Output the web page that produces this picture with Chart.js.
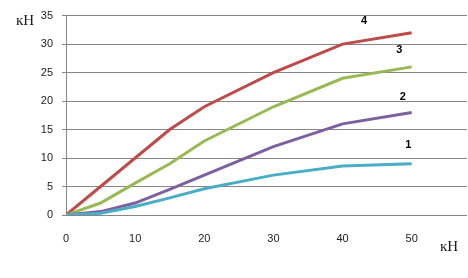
<!DOCTYPE html>
<html>
<head>
<meta charset="utf-8">
<script src="https://cdn.jsdelivr.net/npm/chart.js@4/dist/chart.umd.min.js"></script>
<style>
    html, body { margin: 0; padding: 0; background: #fff; }
    #wrap { width: 468px; height: 278px; position: relative; }
</style>
</head>
<body>
<div id="wrap"><canvas id="chart" width="468" height="278"></canvas></div>
<script>
// ===== data =====
var X_VALUES = [0, 5, 10, 15, 20, 30, 40, 50];

var SERIES_1 = [0, 0.3, 1.5, 3, 4.6, 7, 8.6, 9];
var SERIES_2 = [0, 0.6, 2.1, 4.5, 7, 12, 16, 18];
var SERIES_3 = [0, 2.1, 5.6, 9, 13, 19, 24, 26];
var SERIES_4 = [0, 5, 10, 15, 19, 25, 30, 32];

var SERIES_NAMES  = ["1", "2", "3", "4"];
var SERIES_COLORS = ["#4BACC6", "#7D60A0", "#98B954", "#BE4B48"];

// where the curve numbers sit (in data units)
var LABEL_X = [49.5, 48.7, 48.2, 43.1];
var LABEL_Y = [12.3, 20.8, 29.0, 34.1];

var Y_TICKS = [0, 5, 10, 15, 20, 25, 30, 35];
var X_TICKS = [0, 10, 20, 30, 40, 50];
var UNIT = "кН";

function toPoints(ys) {
    return ys.map(function (y, i) { return { x: X_VALUES[i], y: y }; });
}

var allSeries = [SERIES_1, SERIES_2, SERIES_3, SERIES_4];
var datasets = allSeries.map(function (s, i) {
    return {
        label: SERIES_NAMES[i],
        data: toPoints(s),
        borderColor: SERIES_COLORS[i],
        borderWidth: 3,
        pointRadius: 0,
        tension: 0,
        fill: false
    };
});

// curve numbers + the two "кН" titles
var textPlugin = {
    id: "texts",
    afterDatasetsDraw: function (chart) {
        var ctx = chart.ctx;
        var xs = chart.scales.x, ys = chart.scales.y;
        var area = chart.chartArea;
        ctx.save();
        ctx.fillStyle = "#000";
        ctx.font = "bold 11px 'Liberation Sans', Arial, sans-serif";
        ctx.textAlign = "center";
        ctx.textBaseline = "middle";
        SERIES_NAMES.forEach(function (n, i) {
            ctx.fillText(n, xs.getPixelForValue(LABEL_X[i]), ys.getPixelForValue(LABEL_Y[i]));
        });

        ctx.font = "15px 'Liberation Serif', 'Times New Roman', serif";
        ctx.fillStyle = "#1a1a1a";
        ctx.textAlign = "left";
        ctx.fillText(UNIT, area.left - 50, area.top + 5);
        ctx.fillText(UNIT, area.right - 27, area.bottom + 32);
        ctx.restore();
    }
};

new Chart(document.getElementById("chart").getContext("2d"), {
    type: "line",
    data: { datasets: datasets },
    plugins: [textPlugin],
    options: {
        responsive: false,
        animation: false,
        layout: { padding: { top: 14, right: 1, bottom: 0, left: 0 } },
        plugins: {
            legend: { display: false },
            tooltip: { enabled: false }
        },
        scales: {
            x: {
                type: "linear",
                min: 0,
                max: 58,
                afterBuildTicks: function (scale) {
                    scale.ticks = X_TICKS.map(function (v) { return { value: v }; });
                },
                afterFit: function (scale) { scale.height = 63; },
                grid: { display: false, drawTicks: false },
                border: { display: false },
                ticks: {
                    color: "#222",
                    padding: 17,
                    maxRotation: 0,
                    font: { family: "'Liberation Sans', Arial, sans-serif", size: 11 }
                }
            },
            y: {
                min: 0,
                max: 35,
                afterBuildTicks: function (scale) {
                    scale.ticks = Y_TICKS.map(function (v) { return { value: v }; });
                },
                afterFit: function (scale) { scale.width = 66; },
                grid: { color: "#868686", lineWidth: 1, tickLength: 4 },
                border: { display: true, color: "#868686", width: 1 },
                ticks: {
                    color: "#222",
                    padding: 9,
                    font: { family: "'Liberation Sans', Arial, sans-serif", size: 11 }
                }
            }
        }
    }
});
</script>
</body>
</html>
